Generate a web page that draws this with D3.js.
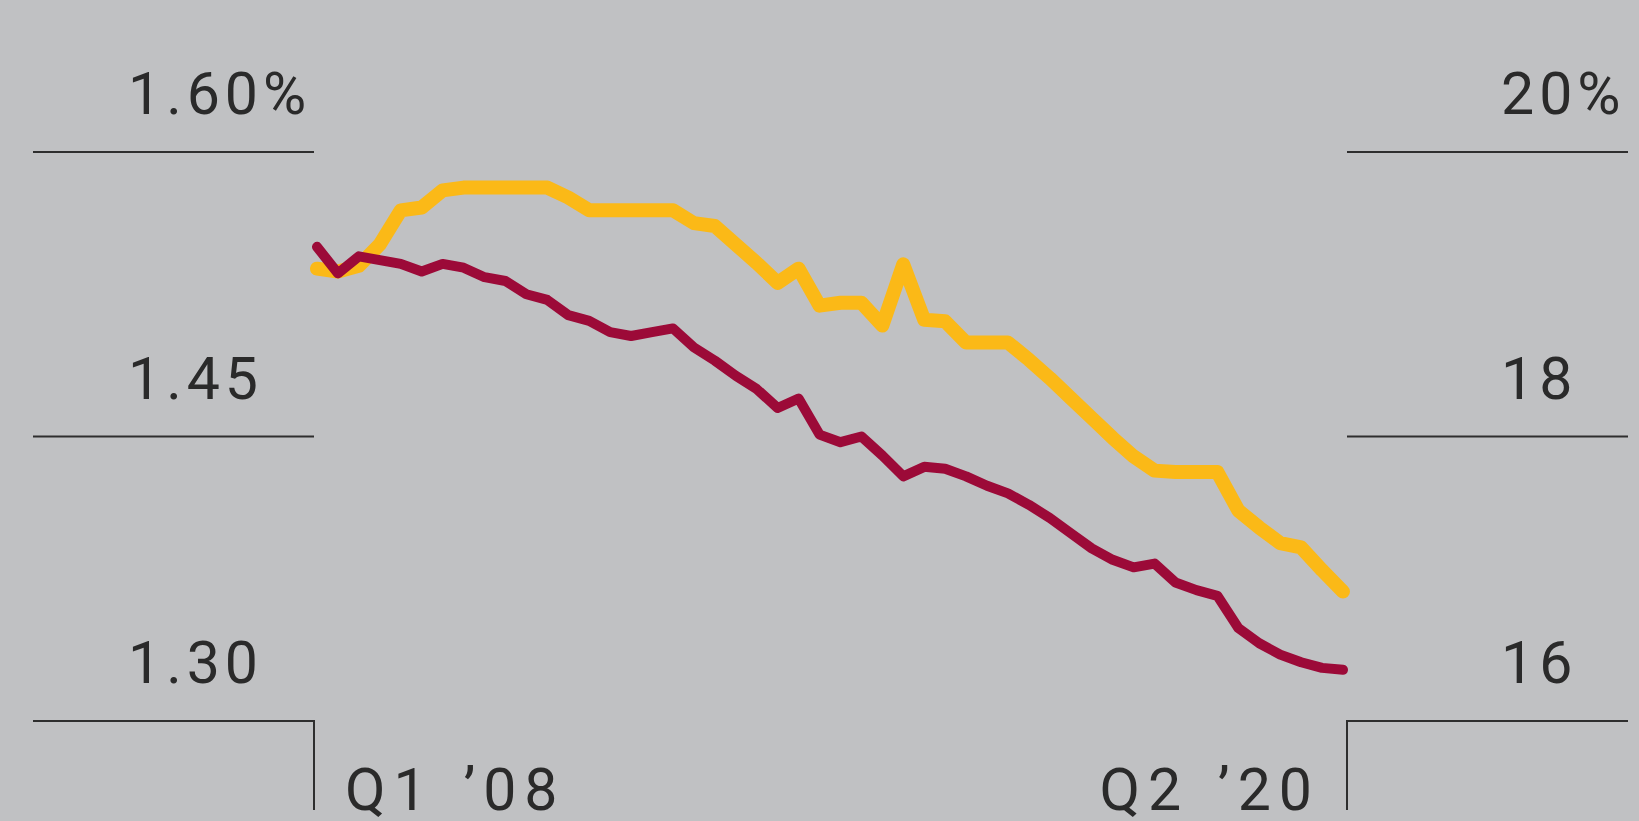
<!DOCTYPE html>
<html>
<head>
<meta charset="utf-8">
<title>Two ratio lines, Q1 '08 to Q2 '20</title>
<script src="https://d3js.org/d3.v7.min.js"></script>
<style>
  html, body { margin: 0; padding: 0; background: #c0c1c3; }
  text { font-family: Roboto, "DejaVu Sans", sans-serif; font-weight: 400; fill: #2a2a2a; }
</style>
</head>
<body>
<div id="chart"></div>
<script>
// quarters shown on the x axis (first and last only are labelled)
var xLabels = ["Q1 \u201908", "Q2 \u201920"];
var quarterCount = 50;

// left axis (red line), percent
var leftTicks = [1.60, 1.45, 1.30];
var leftTickLabels = ["1.60%", "1.45", "1.30"];
var redValues = [
  1.550, 1.536, 1.545, 1.543, 1.541, 1.537, 1.541, 1.539, 1.534, 1.532,
  1.525, 1.522, 1.514, 1.511, 1.505, 1.503, 1.505, 1.507, 1.497, 1.490,
  1.482, 1.475, 1.465, 1.470, 1.451, 1.447, 1.450, 1.440, 1.429, 1.434,
  1.433, 1.429, 1.424, 1.420, 1.414, 1.407, 1.399, 1.391, 1.385, 1.381,
  1.383, 1.373, 1.369, 1.366, 1.349, 1.341, 1.335, 1.331, 1.328, 1.327
];

// right axis (yellow line), percent
var rightTicks = [20, 18, 16];
var rightTickLabels = ["20%", "18", "16"];
var yellowValues = [
  19.18, 19.16, 19.20, 19.35, 19.59, 19.61, 19.73, 19.75, 19.75, 19.75,
  19.75, 19.75, 19.68, 19.59, 19.59, 19.59, 19.59, 19.59, 19.50, 19.48,
  19.35, 19.22, 19.08, 19.18, 18.92, 18.94, 18.94, 18.78, 19.21, 18.82,
  18.81, 18.66, 18.66, 18.66, 18.54, 18.41, 18.27, 18.13, 17.99, 17.86,
  17.76, 17.75, 17.75, 17.75, 17.48, 17.36, 17.25, 17.22, 17.06, 16.91
];

var W = 1639, H = 821;
var plotLeft = 314, plotRight = 1347;
var plotTop = 152, plotBottom = 721;
var fontSize = "59px";

var svg = d3.select("#chart").append("svg")
  .attr("width", W)
  .attr("height", H);

var x = d3.scaleLinear().domain([0, quarterCount - 1]).range([317, 1343]);
var yLeft = d3.scaleLinear().domain([1.30, 1.60]).range([plotBottom, plotTop]);
var yRight = d3.scaleLinear().domain([16, 20]).range([plotBottom, plotTop]);

// gridlines on both sides
var grid = svg.append("g").attr("stroke", "#2e2e2e").attr("stroke-width", 2);
grid.selectAll(".gl").data(leftTicks).enter().append("line")
  .attr("x1", 33).attr("x2", plotLeft)
  .attr("y1", d => yLeft(d)).attr("y2", d => yLeft(d));
grid.selectAll(".gr").data(rightTicks).enter().append("line")
  .attr("x1", plotRight).attr("x2", 1628)
  .attr("y1", d => yRight(d)).attr("y2", d => yRight(d));

// small vertical ticks at the start and end quarter
grid.append("line").attr("x1", plotLeft).attr("x2", plotLeft).attr("y1", plotBottom - 1).attr("y2", 810);
grid.append("line").attr("x1", plotRight).attr("x2", plotRight).attr("y1", plotBottom - 1).attr("y2", 810);

// tick labels
svg.append("g").selectAll("text").data(leftTicks).enter().append("text")
  .attr("x", 128)
  .attr("y", d => yLeft(d) - 38)
  .style("font-size", fontSize)
  .style("letter-spacing", "5px")
  .text((d, i) => leftTickLabels[i]);

svg.append("g").selectAll("text").data(rightTicks).enter().append("text")
  .attr("x", 1501)
  .attr("y", d => yRight(d) - 38)
  .style("font-size", fontSize)
  .style("letter-spacing", "5px")
  .text((d, i) => rightTickLabels[i]);

// x labels
svg.append("text").attr("x", 345).attr("y", 810)
  .style("font-size", fontSize)
  .style("letter-spacing", "8px")
  .style("word-spacing", "6px")
  .text(xLabels[0]);
svg.append("text").attr("x", 1320).attr("y", 810)
  .attr("text-anchor", "end")
  .style("font-size", fontSize)
  .style("letter-spacing", "8px")
  .style("word-spacing", "6px")
  .text(xLabels[1]);

// lines
var yellowLine = d3.line().x((d, i) => x(i)).y(d => yRight(d));
var redLine = d3.line().x((d, i) => x(i)).y(d => yLeft(d));

svg.append("path")
  .attr("d", yellowLine(yellowValues))
  .attr("fill", "none")
  .attr("stroke", "#fbb917")
  .attr("stroke-width", 14)
  .attr("stroke-linejoin", "round")
  .attr("stroke-linecap", "round");

svg.append("path")
  .attr("d", redLine(redValues))
  .attr("fill", "none")
  .attr("stroke", "#9c0a38")
  .attr("stroke-width", 10)
  .attr("stroke-linejoin", "round")
  .attr("stroke-linecap", "round");
</script>
</body>
</html>
